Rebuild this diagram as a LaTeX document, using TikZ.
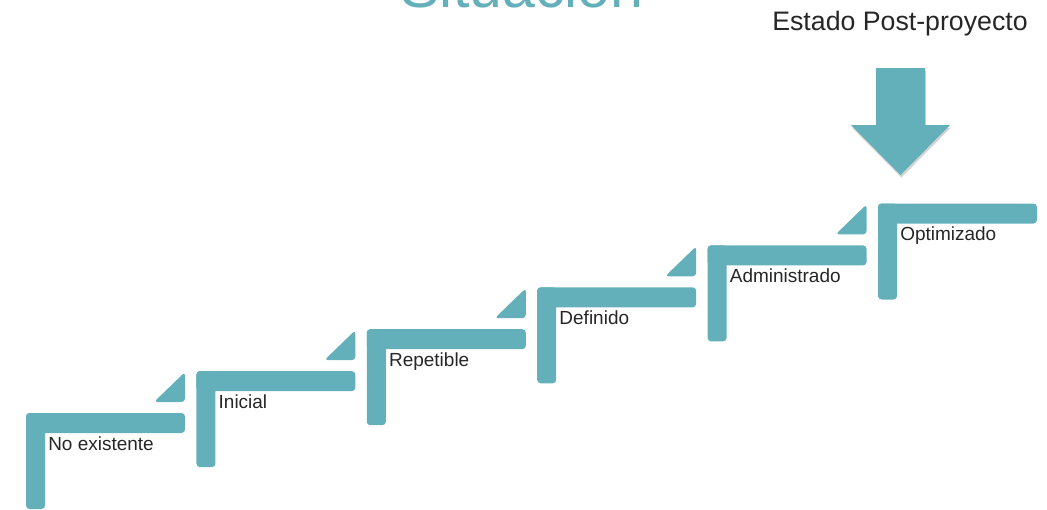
\documentclass[tikz,border=0pt]{standalone}
\usepackage{fontspec}
\setmainfont{Liberation Sans}
\usetikzlibrary{shadows}
\definecolor{escalon}{HTML}{63B0BB}
\definecolor{texto}{HTML}{262626}

\begin{document}
\begin{tikzpicture}
		[x=0.025cm,y=-0.025cm,
		barra/.style={fill=escalon,rounded corners=2.5},
		etiqueta/.style={anchor=base west,inner sep=0pt,text=texto,font=\fontsize{13.5}{16}\selectfont}]
		\useasboundingbox (0,0) rectangle (1047,509);
		\clip (0,0) rectangle (1047,509);
		
		\node[anchor=base,inner sep=0pt,text=escalon,font=\fontsize{42}{48}\selectfont] (titulo) at (522,7) {Situación};
		\node[anchor=base east,inner sep=0pt,text=texto,font=\fontsize{19}{23}\selectfont] (post) at (1028,30) {Estado Post-proyecto};
		
		\foreach \n/\lab in {0/No existente,1/Inicial,2/Repetible,3/Definido,4/Administrado,5/Optimizado}
		{
			\coordinate (e\n) at ({26+170.4*\n},{413-41.9*\n});
			\fill[barra] (e\n) rectangle ++(159,20);
			\fill[barra] (e\n) rectangle ++(19,96);
			\path (e\n) ++(22,37) node[etiqueta] (l\n) {\lab};
		}
		\foreach \n in {0,...,4}
			\fill[barra] (e\n) ++(159,-41) -- ++(0,30) -- ++(-31,0) -- cycle;
		
		\fill[escalon,drop shadow={shadow xshift=0.6pt,shadow yshift=-1.8pt,opacity=0.35}]
			(876,68) coordinate(flecha) -- (925,68) -- (925,125) -- (950,125) -- (900.5,175) -- (851,125) -- (876,125) -- cycle;
		
\end{tikzpicture}
\end{document}
